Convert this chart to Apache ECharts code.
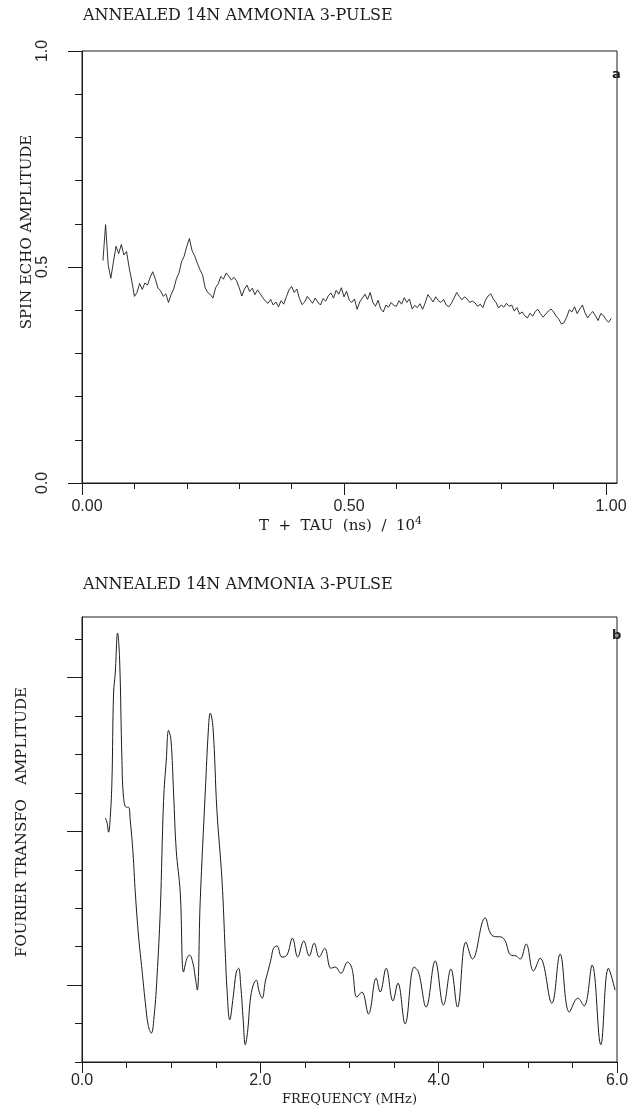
<!DOCTYPE html>
<html>
<head>
<meta charset="utf-8">
<script src="https://cdn.jsdelivr.net/npm/echarts@6/dist/echarts.min.js"></script>
<style>
html,body{margin:0;padding:0;background:#ffffff;}
#c{width:636px;height:1108px;}
</style>
</head>
<body>
<div id="c"></div>
<script>
// ---------- shared text ----------
const chartTitle = 'ANNEALED 14N AMMONIA 3-PULSE';

// ---------- panel a : spin echo decay ----------
const echoT = [
  0.040,0.045,0.050,0.055,0.060,0.065,0.070,0.075,0.080,0.085,0.090,0.095,
  0.100,0.105,0.110,0.115,0.120,0.125,0.130,0.135,0.140,0.145,
  0.150,0.155,0.160,0.165,0.170,0.175,0.180,0.185,0.190,0.195,
  0.200,0.205,0.210,0.215,0.220,0.225,0.230,0.235,0.240,0.245,
  0.250,0.255,0.260,0.265,0.270,0.275,0.280,0.285,0.290,0.295,
  0.300,0.305,0.310,0.315,0.320,0.325,0.330,0.335,0.340,0.345,
  0.350,0.355,0.360,0.365,0.370,0.375,0.380,0.385,0.390,0.395,
  0.400,0.405,0.410,0.415,0.420,0.425,0.430,0.435,0.440,0.445,
  0.450,0.455,0.460,0.465,0.470,0.475,0.480,0.485,0.490,0.495,
  0.500,0.505,0.510,0.515,0.520,0.525,0.530,0.535,0.540,0.545,
  0.550,0.555,0.560,0.565,0.570,0.575,0.580,0.585,0.590,0.595,
  0.600,0.605,0.610,0.615,0.620,0.625,0.630,0.635,0.640,0.645,
  0.650,0.655,0.660,0.665,0.670,0.675,0.680,0.685,0.690,0.695,
  0.700,0.705,0.710,0.715,0.720,0.725,0.730,0.735,0.740,0.745,
  0.750,0.755,0.760,0.765,0.770,0.775,0.780,0.785,0.790,0.795,
  0.800,0.805,0.810,0.815,0.820,0.825,0.830,0.835,0.840,0.845,
  0.850,0.855,0.860,0.865,0.870,0.875,0.880,0.885,0.890,0.895,
  0.900,0.905,0.910,0.915,0.920,0.925,0.930,0.935,0.940,0.945,
  0.950,0.955,0.960,0.965,0.970,0.975,0.980,0.985,0.990,0.995,
  1.000,1.005,1.010
];
const echoAmp = [
  0.515,0.598,0.505,0.474,0.512,0.548,0.531,0.552,0.528,0.536,0.498,0.468,
  0.432,0.441,0.462,0.448,0.463,0.458,0.476,0.489,0.472,0.451,
  0.445,0.432,0.438,0.418,0.436,0.449,0.472,0.486,0.512,0.525,
  0.548,0.566,0.538,0.526,0.509,0.494,0.482,0.452,0.441,0.436,
  0.428,0.452,0.461,0.478,0.472,0.486,0.479,0.470,0.476,0.468,
  0.452,0.433,0.449,0.458,0.443,0.451,0.436,0.447,0.438,0.429,
  0.421,0.416,0.425,0.412,0.419,0.408,0.422,0.414,0.431,0.447,
  0.455,0.441,0.449,0.427,0.413,0.419,0.432,0.424,0.416,0.428,
  0.419,0.412,0.427,0.421,0.433,0.440,0.428,0.446,0.437,0.452,
  0.431,0.444,0.423,0.418,0.426,0.402,0.419,0.428,0.437,0.425,
  0.441,0.418,0.409,0.423,0.403,0.396,0.412,0.407,0.418,0.411,
  0.409,0.422,0.414,0.429,0.418,0.426,0.403,0.411,0.406,0.415,
  0.402,0.417,0.436,0.428,0.419,0.431,0.422,0.418,0.425,0.412,
  0.408,0.416,0.428,0.441,0.432,0.424,0.431,0.426,0.418,0.421,
  0.417,0.409,0.414,0.406,0.423,0.433,0.438,0.426,0.418,0.405,
  0.412,0.407,0.416,0.409,0.412,0.398,0.406,0.391,0.396,0.387,
  0.382,0.393,0.386,0.397,0.402,0.392,0.384,0.391,0.398,0.403,
  0.396,0.386,0.379,0.368,0.371,0.384,0.401,0.396,0.408,0.392,
  0.403,0.412,0.394,0.382,0.391,0.397,0.387,0.376,0.392,0.388,
  0.378,0.372,0.381
];
const echoXMinorTicks = [0,0.1,0.2,0.3,0.4,0.5,0.6,0.7,0.8,0.9,1.0];
const echoXMajorTicks = [0,0.5,1.0];
const echoYMinorTicks = [0,0.1,0.2,0.3,0.4,0.5,0.6,0.7,0.8,0.9,1.0];
const echoYMajorTicks = [0,0.5,1.0];

// ---------- panel b : Fourier transform ----------
const freqMHz = [
  0.261,0.280,0.298,0.317,0.336,0.354,0.373,0.399,0.422,0.448,
  0.466,0.497,0.522,0.541,0.572,0.598,0.635,0.673,0.710,0.743,
  0.777,0.811,0.841,0.878,0.915,0.945,0.971,0.998,1.027,1.057,
  1.102,1.139,1.177,1.206,1.244,1.270,1.293,1.326,1.382,1.419,
  1.438,1.469,1.513,1.570,1.607,1.626,1.657,1.696,1.730,1.756,
  1.780,1.808,1.831,1.859,1.887,1.920,1.954,1.988,2.021,2.055,
  2.089,2.122,2.148,2.186,2.242,2.298,2.361,2.419,2.487,2.548,
  2.604,2.660,2.722,2.791,2.840,2.904,2.978,3.027,3.083,3.139,
  3.213,3.299,3.344,3.411,3.487,3.543,3.624,3.725,3.774,3.860,
  3.961,4.054,4.137,4.211,4.305,4.379,4.521,4.596,4.726,4.809,
  4.869,4.914,4.981,5.063,5.138,5.269,5.362,5.466,5.561,5.631,
  5.721,5.818,5.904,5.979
];
const ftAmp = [
  6.35,6.24,5.98,6.37,7.33,9.60,10.12,11.16,10.46,7.85,
  6.89,6.63,6.63,6.29,5.44,4.40,3.25,2.39,1.55,0.95,
  0.75,1.25,2.21,3.95,6.81,7.85,8.63,8.37,7.00,5.51,
  4.40,2.34,2.70,2.78,2.57,2.21,1.87,4.21,7.00,8.71,
  9.08,8.71,6.55,4.73,2.83,1.90,1.10,1.70,2.34,2.44,
  2.00,1.09,0.45,0.83,1.61,2.00,2.13,1.82,1.66,2.08,
  2.39,2.70,2.96,3.02,2.73,2.78,3.22,2.73,3.15,2.76,
  3.09,2.73,2.96,2.44,2.47,2.31,2.60,2.44,1.69,1.82,
  1.25,2.18,1.82,2.44,1.59,2.05,0.99,2.47,2.34,1.43,
  2.63,1.48,2.42,1.43,3.12,2.68,3.75,3.30,3.22,2.78,
  2.76,2.68,3.07,2.37,2.70,1.53,2.81,1.30,1.66,1.46,
  2.52,0.45,2.44,1.87
];
const freqMinorTicks = [0,0.5,1.0,1.5,2.0,2.5,3.0,3.5,4.0,4.5,5.0,5.5,6.0];
const freqMajorTicks = [0,2,4,6];
const ftMinorTicks = [0,1,2,3,4,5,6,7,8,9,10,11];
const ftMajorTicks = [2,6,10];

// ---------- styling ----------
const ink = '#1c1c1c';
const tickLabel = { fontFamily: 'Liberation Sans', fontSize: 16, color: '#262626' };
const serifText = { fontFamily: 'DejaVu Serif', fontSize: 16, color: ink, fontWeight: 'normal' };

function minorX(grid, max, ticks) {
  return {
    gridIndex: grid, type: 'value', min: 0, max: max, position: 'bottom',
    axisLine: { show: true, onZero: false, lineStyle: { color: ink, width: 1 } },
    axisTick: { show: true, customValues: ticks, length: 6, lineStyle: { color: ink, width: 1 } },
    axisLabel: { show: false }, splitLine: { show: false }
  };
}
function minorY(grid, max, ticks) {
  return {
    gridIndex: grid, type: 'value', min: 0, max: max, position: 'left',
    axisLine: { show: true, onZero: false, lineStyle: { color: ink, width: 1 } },
    axisTick: { show: true, customValues: ticks, length: 7, lineStyle: { color: ink, width: 1 } },
    axisLabel: { show: false }, splitLine: { show: false }
  };
}

const chart = echarts.init(document.getElementById('c'), null, { renderer: 'canvas' });

const option = {
  backgroundColor: '#ffffff',
  animation: false,
  title: [
    { text: chartTitle, left: 83, top: 8, padding: 0, textStyle: serifText },
    { text: chartTitle, left: 83, top: 577, padding: 0, textStyle: serifText },
    { text: 'a', left: 612, top: 68, padding: 0, textStyle: { fontFamily: 'DejaVu Sans', fontWeight: 'bold', fontSize: 13, color: ink } },
    { text: 'b', left: 612, top: 629, padding: 0, textStyle: { fontFamily: 'DejaVu Sans', fontWeight: 'bold', fontSize: 13, color: ink } }
  ],
  grid: [
    { left: 82, top: 51, width: 535, height: 432, show: true, borderColor: ink, borderWidth: 1, containLabel: false },
    { left: 82, top: 617, width: 535, height: 445, show: true, borderColor: ink, borderWidth: 1, containLabel: false }
  ],
  xAxis: [
    minorX(0, 1.021, echoXMinorTicks),
    {
      gridIndex: 0, type: 'value', min: 0, max: 1.021, position: 'bottom',
      axisLine: { show: false, onZero: false },
      axisTick: { show: true, customValues: echoXMajorTicks, length: 12, lineStyle: { color: ink, width: 1 } },
      axisLabel: Object.assign({ customValues: echoXMajorTicks, margin: 16, padding: [0, 0, 0, 10],
        formatter: v => Number(v).toFixed(2) }, tickLabel),
      splitLine: { show: false },
      name: 'T  +  TAU  (ns)  /  10{sup|4}', nameLocation: 'middle', nameGap: 33,
      nameTextStyle: Object.assign({}, serifText, { fontSize: 15, lineHeight: 20, padding: [0, 18, 0, 0],
        rich: { sup: { fontFamily: 'DejaVu Serif', fontSize: 11, color: ink, verticalAlign: 'top', lineHeight: 20 } } })
    },
    minorX(1, 6, freqMinorTicks),
    {
      gridIndex: 1, type: 'value', min: 0, max: 6, position: 'bottom',
      axisLine: { show: false, onZero: false },
      axisTick: { show: true, customValues: freqMajorTicks, length: 11, lineStyle: { color: ink, width: 1 } },
      axisLabel: Object.assign({ customValues: freqMajorTicks, margin: 11,
        formatter: v => Number(v).toFixed(1) }, tickLabel),
      splitLine: { show: false },
      name: 'FREQUENCY (MHz)', nameLocation: 'middle', nameGap: 31,
      nameTextStyle: Object.assign({}, serifText, { fontSize: 13 })
    }
  ],
  yAxis: [
    minorY(0, 1, echoYMinorTicks),
    {
      gridIndex: 0, type: 'value', min: 0, max: 1, position: 'left',
      axisLine: { show: false, onZero: false },
      axisTick: { show: true, customValues: echoYMajorTicks, length: 14, lineStyle: { color: ink, width: 1 } },
      axisLabel: Object.assign({ customValues: echoYMajorTicks, rotate: 90, margin: 31,
        formatter: v => Number(v).toFixed(1) }, tickLabel),
      splitLine: { show: false }
    },
    minorY(1, 11.58, ftMinorTicks),
    {
      gridIndex: 1, type: 'value', min: 0, max: 11.58, position: 'left',
      axisLine: { show: false, onZero: false },
      axisTick: { show: true, customValues: ftMajorTicks, length: 15, lineStyle: { color: ink, width: 1 } },
      axisLabel: { show: false },
      splitLine: { show: false }
    }
  ],
  graphic: [
    { type: 'text', x: 27, y: 232, rotation: Math.PI / 2,
      style: { text: 'SPIN ECHO AMPLITUDE', fontFamily: 'DejaVu Serif', fontSize: 15, fill: ink, align: 'center', verticalAlign: 'middle' } },
    { type: 'text', x: 22, y: 822, rotation: Math.PI / 2,
      style: { text: 'FOURIER TRANSFO   AMPLITUDE', fontFamily: 'DejaVu Serif', fontSize: 15, fill: ink, align: 'center', verticalAlign: 'middle' } }
  ],
  series: [
    {
      type: 'line', xAxisIndex: 0, yAxisIndex: 0,
      data: echoT.map((t, i) => [t, echoAmp[i]]),
      symbol: 'none', showSymbol: false, smooth: false,
      lineStyle: { color: ink, width: 0.9 }
    },
    {
      type: 'line', xAxisIndex: 2, yAxisIndex: 2,
      data: freqMHz.map((f, i) => [f, ftAmp[i]]),
      symbol: 'none', showSymbol: false, smooth: 0.4,
      lineStyle: { color: ink, width: 1 }
    }
  ]
};
chart.setOption(option);
</script>
</body>
</html>
